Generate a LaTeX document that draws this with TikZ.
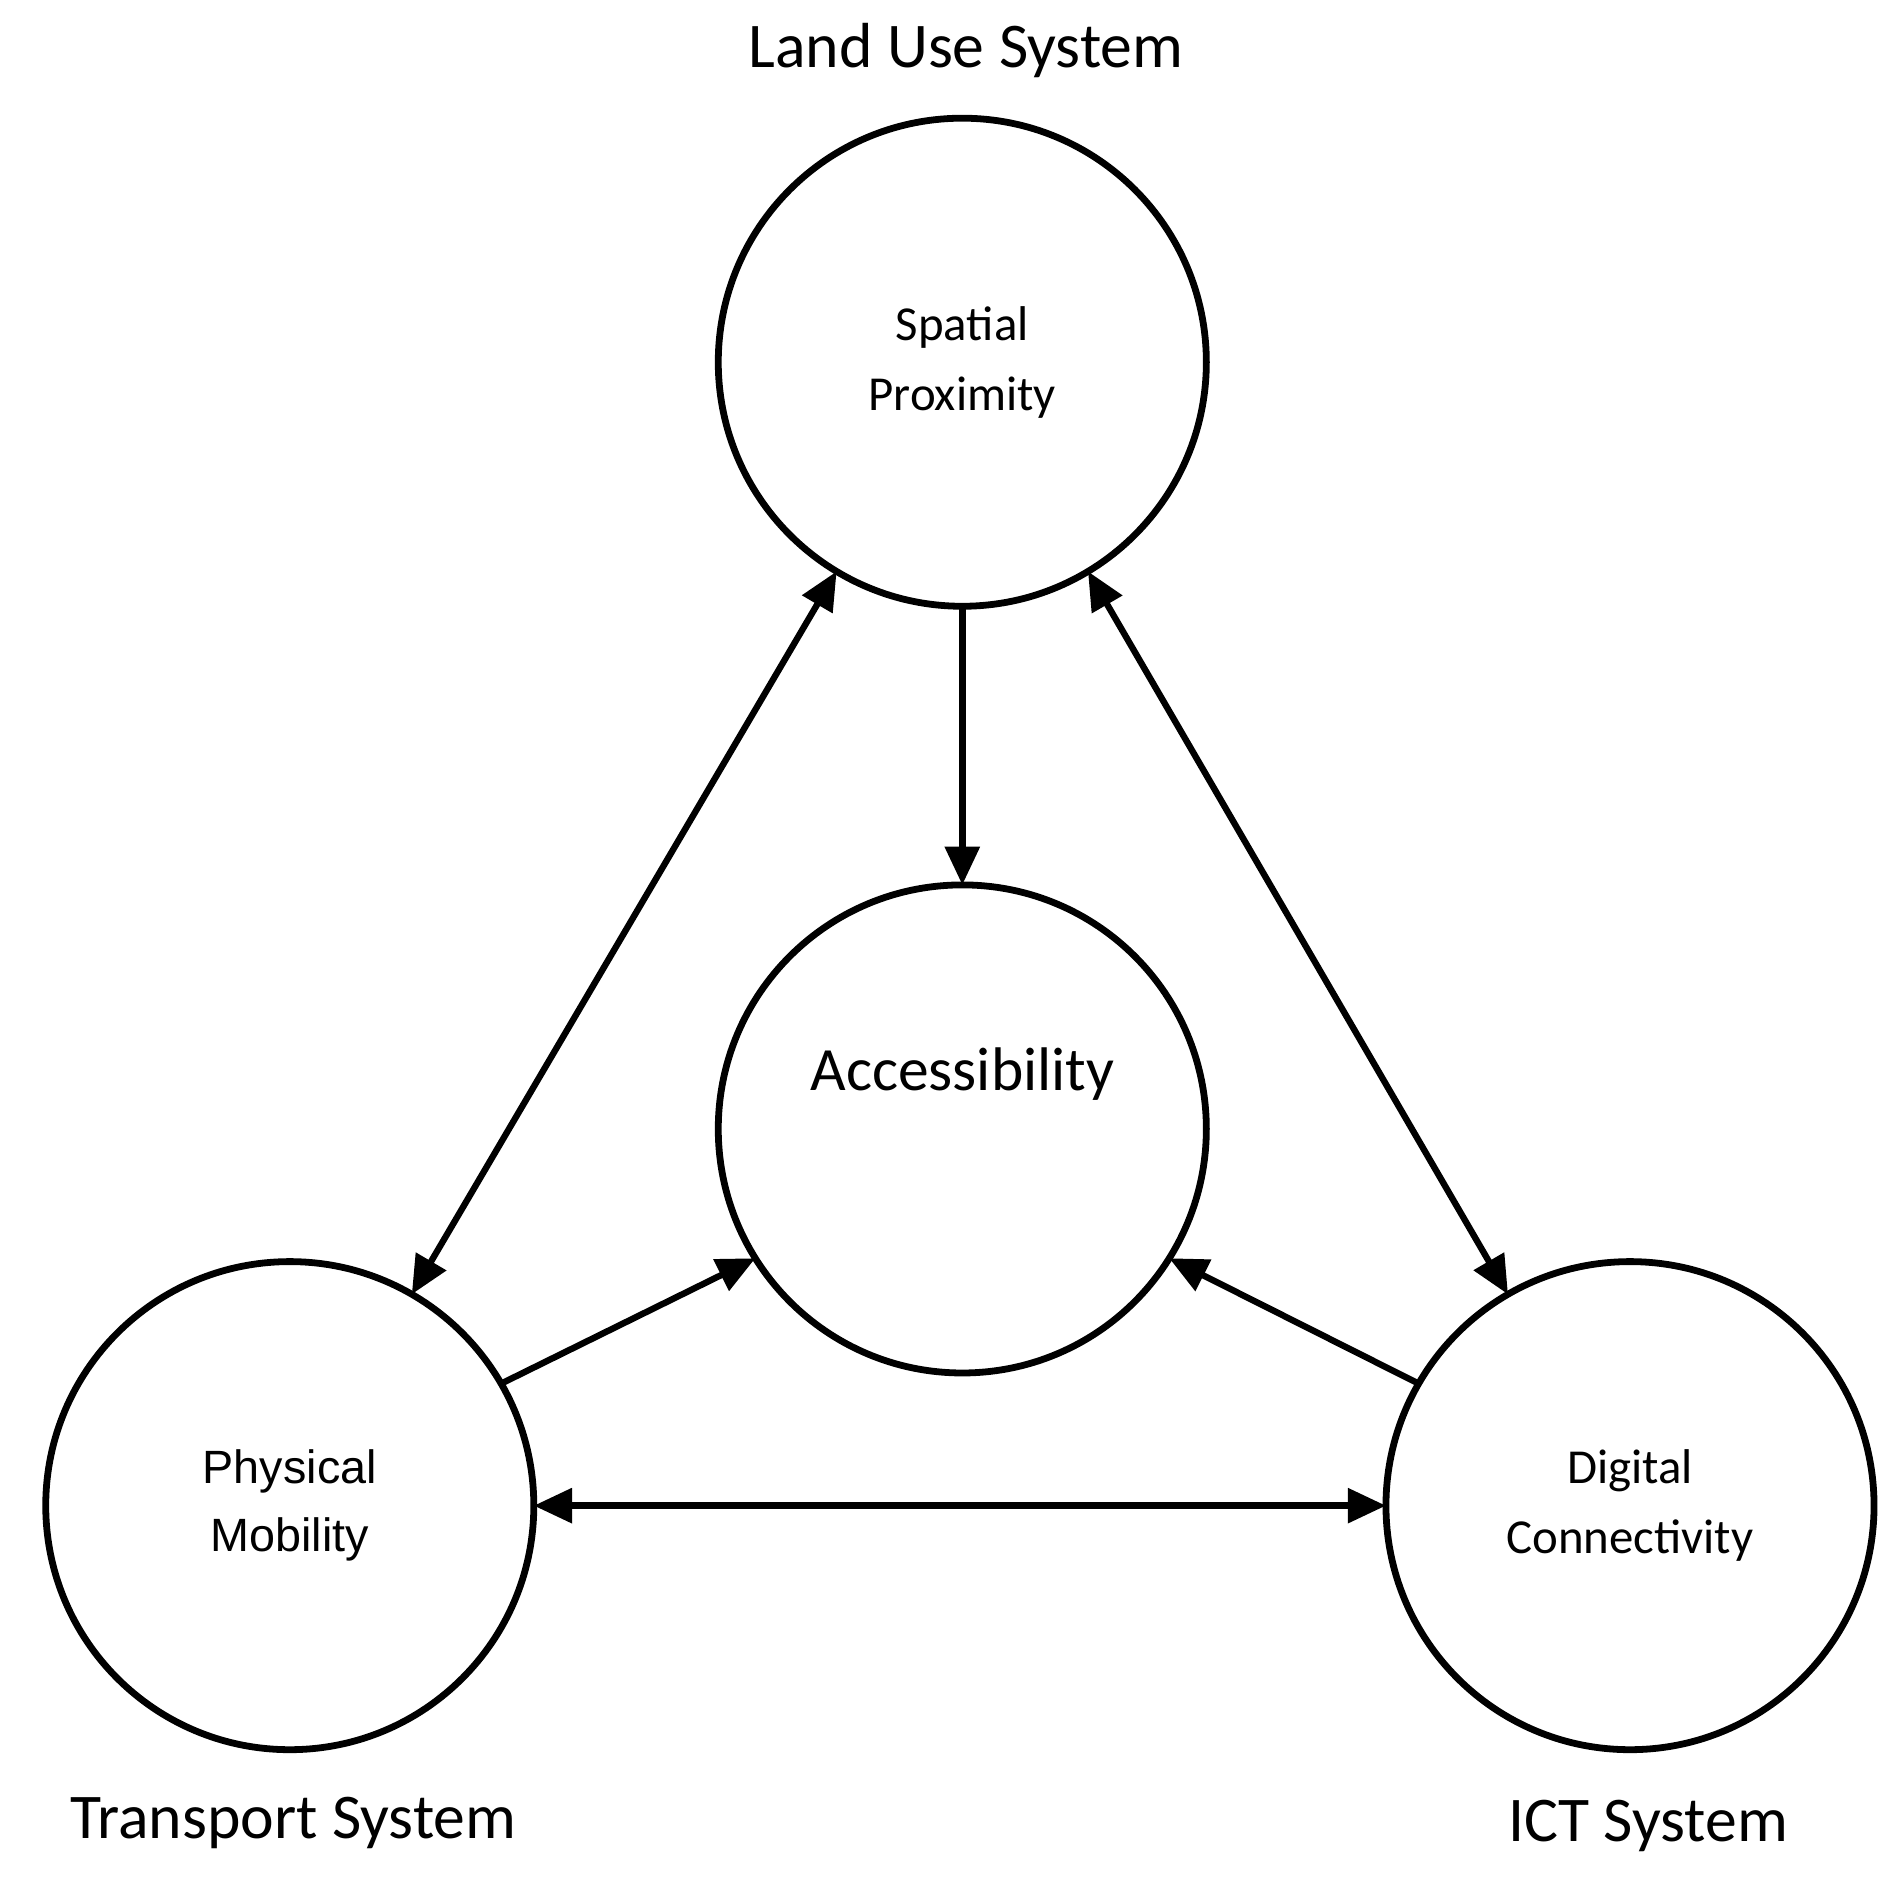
\documentclass[tikz,border=0pt]{standalone}
\usepackage{fontspec}
\setmainfont{Carlito}
\newfontfamily\arialf{Liberation Sans}
\usetikzlibrary{arrows.meta}
\begin{document}
\begin{tikzpicture}[x=0.01cm,y=-0.01cm,
  circ/.style={circle,draw,line width=1.6pt,minimum size=4.04cm,inner sep=0pt,outer sep=0pt,align=center},
  conn/.style={line width=1.5pt,-{Triangle[length=9pt,width=8pt]}},
  biconn/.style={line width=1.5pt,{Triangle[length=9pt,width=8pt]}-{Triangle[length=9pt,width=8pt]}},
  sys/.style={font=\fontsize{15}{18}\selectfont}]
\useasboundingbox (0,0) rectangle (1567,1557);
\node[circ,font=\fontsize{11.5}{16.5}\selectfont] (sp) at (797,300) {Spatial\\Proximity};
\node[circ,font=\fontsize{14.5}{18}\selectfont] (acc) at (797,935) {Accessibility\\[10pt]};
\node[circ,font=\arialf\fontsize{11}{16}\selectfont] (pm) at (240,1247) {Physical\\Mobility};
\node[circ,font=\fontsize{11.5}{16.5}\selectfont] (dc) at (1350,1247) {Digital\\Connectivity};
\node[sys] (lus) at (800,42) {Land Use System};
\node[sys] (ts) at (243,1510) {Transport System};
\node[sys] (ict) at (1365,1512) {ICT System};
\draw[biconn] (sp.239) -- (pm.60);
\draw[biconn] (sp.301) -- (dc.120);
\draw[conn] (sp) -- (acc);
\draw[conn] (pm.30) -- (acc.212);
\draw[conn] (dc.150) -- (acc.328);
\draw[biconn] (pm) -- (dc);
\end{tikzpicture}
\end{document}
